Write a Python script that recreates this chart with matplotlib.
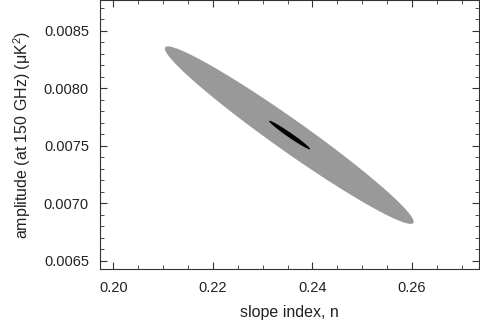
import numpy as np
import matplotlib
matplotlib.use("Agg")
import matplotlib.pyplot as plt
from matplotlib.patches import Polygon
from matplotlib.ticker import MultipleLocator

plt.rcParams['font.family'] = ['Liberation Sans', 'DejaVu Sans']

# confidence contours: centre, major half-axis, minor half-axis (data units)
outer_center = [0.23535, 0.007593]
outer_major = [0.02495, -0.000763]
outer_minor = [0.00184, 0.0001125]

inner_center = [0.23542, 0.007594]
inner_major = [0.00412, -0.000123]
inner_minor = [0.000265, 0.0000166]

xticks = [0.20, 0.22, 0.24, 0.26]
xticklabels = ["0.20", "0.22", "0.24", "0.26"]
yticks = [0.0065, 0.0070, 0.0075, 0.0080, 0.0085]
yticklabels = ["0.0065", "0.0070", "0.0075", "0.0080", "0.0085"]


def contour(c, a, b, n=400):
    t = np.linspace(0, 2 * np.pi, n)
    x = c[0] + a[0] * np.cos(t) + b[0] * np.sin(t)
    y = c[1] + a[1] * np.cos(t) + b[1] * np.sin(t)
    return np.column_stack([x, y])


fig = plt.figure(figsize=(4.8, 3.27), dpi=100)
ax = fig.add_axes([100 / 480, 58 / 327, 379 / 480, 269 / 327])

ax.add_patch(Polygon(contour(outer_center, outer_major, outer_minor),
                     closed=True, facecolor="#999999", edgecolor="none"))
ax.add_patch(Polygon(contour(inner_center, inner_major, inner_minor),
                     closed=True, facecolor="black", edgecolor="none"))

ax.set_xlim(0.1973, 0.2735)
ax.set_ylim(0.00643, 0.008767)

ax.set_xticks(xticks)
ax.set_xticklabels(xticklabels)
ax.set_yticks(yticks)
ax.set_yticklabels(yticklabels)
ax.xaxis.set_minor_locator(MultipleLocator(0.005))
ax.yaxis.set_minor_locator(MultipleLocator(0.0001))
ax.tick_params(which="both", direction="in", top=True, right=True,
               color="#333333", labelsize=10.5, labelcolor="#222222")
ax.tick_params(which="major", length=5, width=0.8, pad=8)
ax.tick_params(which="minor", length=3, width=0.6)
ax.tick_params(axis="x", which="major", pad=9)
for s in ax.spines.values():
    s.set_linewidth(0.8)
    s.set_color("#333333")

ax.set_xlabel("slope index, n", fontsize=11.5, color="#222222", labelpad=7)
ax.set_ylabel("amplitude (at 150 GHz) ($\\mathregular{\\mu K^2}$)",
              fontsize=11.5, color="#222222", labelpad=8)

fig.savefig("out.png", dpi=100)
